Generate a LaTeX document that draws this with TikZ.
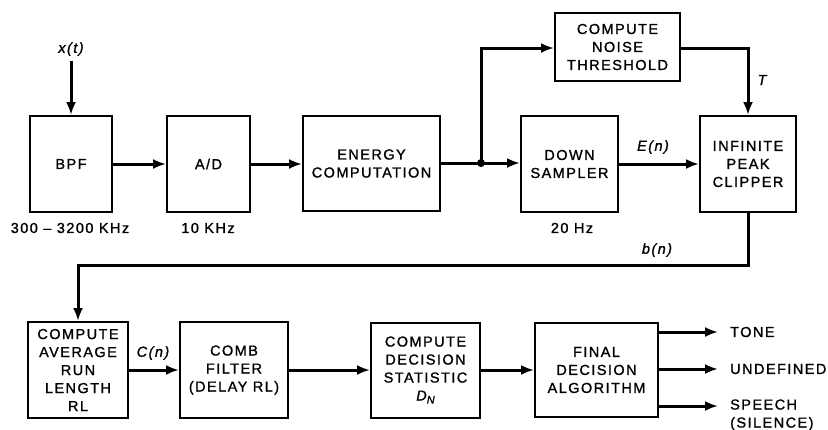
\documentclass[tikz,border=0pt]{standalone}
\usepackage{fontspec}
\setmainfont{Liberation Sans}[LetterSpace=10,FakeBold=1.2]
\usetikzlibrary{arrows.meta}
\begin{document}
\begin{tikzpicture}[x=1pt,y=-1pt,
  blk/.style={draw,line width=2pt,rectangle,inner sep=0pt,align=center,
    font=\fontsize{14.5}{18}\selectfont},
  flow/.style={line width=3pt,-{Latex[length=13pt,width=10pt]}},
  plain/.style={line width=3pt},
  lbl/.style={font=\fontsize{14.5}{18}\selectfont,inner sep=0pt},
  ilbl/.style={font=\fontsize{14.5}{18}\selectfont\itshape,inner sep=0pt}]
\useasboundingbox (0,0) rectangle (828,429);
% top row
\node[blk,minimum width=82pt,minimum height=96pt] (bpf) at (71,164) {BPF};
\node[blk,minimum width=83pt,minimum height=96pt] (ad) at (208.5,164) {A/D};
\node[blk,minimum width=137pt,minimum height=95pt] (en) at (371.5,163.5) {ENERGY\\COMPUTATION};
\node[blk,minimum width=125pt,minimum height=68pt] (noise) at (617.5,47) {COMPUTE\\NOISE\\THRESHOLD};
\node[blk,minimum width=97pt,minimum height=96pt] (down) at (569.5,164) {DOWN\\SAMPLER};
\node[blk,minimum width=96pt,minimum height=96pt] (clip) at (748,164) {INFINITE\\PEAK\\CLIPPER};
% bottom row
\node[blk,minimum width=100pt,minimum height=96pt] (avg) at (78,370) {COMPUTE\\AVERAGE\\RUN\\LENGTH\\RL};
\node[blk,minimum width=108pt,minimum height=96pt] (comb) at (234,370) {COMB\\FILTER\\(DELAY RL)};
\node[blk,minimum width=109pt,minimum height=95pt] (dec) at (425.5,370) {COMPUTE\\DECISION\\STATISTIC\\{\itshape D}\raisebox{-3pt}{\fontsize{11}{12}\selectfont\itshape N}};
\node[blk,minimum width=123pt,minimum height=94pt] (fin) at (596.5,370) {FINAL\\DECISION\\ALGORITHM};
% labels
\node[ilbl] (xt) at (71,49) {x(t)};
\node[lbl] (l1) at (70,228) {300 -- 3200 KHz};
\node[lbl] (l2) at (208,228) {10 KHz};
\node[lbl] (l3) at (572,228) {20 Hz};
\node[ilbl] (en_l) at (653,147) {E(n)};
\node[ilbl] (tl) at (762,80) {T};
\node[ilbl] (bl) at (657,250) {b(n)};
\node[ilbl] (cl) at (153,353) {C(n)};
\node[lbl,anchor=west] (tone) at (730,332) {TONE};
\node[lbl,anchor=west] (undef) at (730,369) {UNDEFINED};
\node[lbl,anchor=west,align=left] (sp) at (730,415) {SPEECH\\(SILENCE)};
% coordinates
\coordinate (xin) at (71,61);
\coordinate (jn) at (481,163);
\coordinate (up) at (481,48);
\coordinate (tr) at (748,48);
\coordinate (fb1) at (748,265);
\coordinate (fb2) at (78,265);
\coordinate (o1) at (718,332);
\coordinate (o2) at (718,369);
\coordinate (o3) at (718,406);
% connectors
\draw[flow] (xin) -- (bpf.north);
\draw[flow] (bpf.east) -- (ad.west);
\draw[flow] (ad.east) -- (en.west |- ad.east);
\draw[plain] (en.east |- jn) -- (jn);
\draw[flow] (jn) -- (down.west |- jn);
\draw[flow] (jn) -- (up) -- (noise.west |- up);
\fill (jn) circle (4pt);
\draw[flow] (noise.east |- tr) -- (tr) -- (clip.north);
\draw[flow] (down.east) -- (clip.west);
\draw[flow] (clip.south) -- (fb1) -- (fb2) -- (avg.north);
\draw[flow] (avg.east) -- (comb.west);
\draw[flow] (comb.east) -- (dec.west);
\draw[flow] (dec.east) -- (fin.west);
\draw[flow] (fin.east |- o1) -- (o1);
\draw[flow] (fin.east |- o2) -- (o2);
\draw[flow] (fin.east |- o3) -- (o3);
\end{tikzpicture}
\end{document}
